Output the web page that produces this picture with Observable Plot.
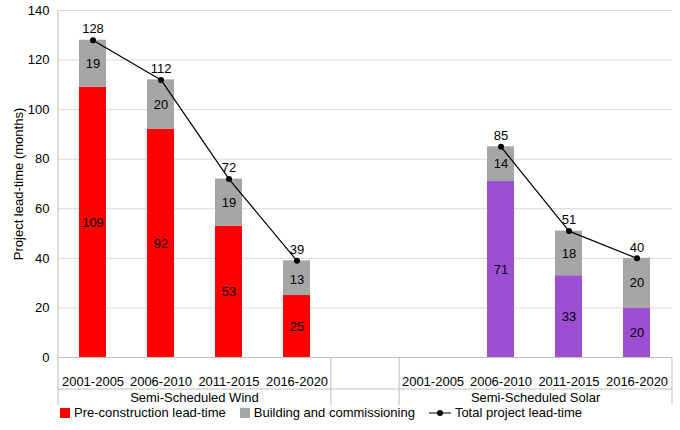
<!DOCTYPE html>
<html><head>
<script src="https://cdn.jsdelivr.net/npm/d3@7"></script>
<script src="https://cdn.jsdelivr.net/npm/@observablehq/plot@0.6"></script>
<style>
body{margin:0;background:#fff;font-family:"Liberation Sans",Arial,sans-serif;}
.leg{display:flex;gap:14px;font-size:13px;margin-left:60px;margin-top:0px;align-items:center}
.leg span{display:inline-flex;align-items:center;gap:4px}
</style>
</head><body>
<div id="c"></div>
<div class="leg">
<span><i style="display:inline-block;width:10px;height:10px;background:#ff0000"></i>Pre-construction lead-time</span>
<span><i style="display:inline-block;width:10px;height:10px;background:#a6a6a6"></i>Building and commissioning</span>
<span><svg width="22" height="10"><line x1="0" x2="22" y1="5" y2="5" stroke="black"/><circle cx="11" cy="5" r="3"/></svg>Total project lead-time</span>
</div>
<script>
const periods = ["2001-2005","2006-2010","2011-2015","2016-2020"];
const groups = ["Semi-Scheduled Wind","Semi-Scheduled Solar"];
const windPre = [109,92,53,25];
const windBuild = [19,20,19,13];
const windTotal = [128,112,72,39];
const solarPre = [null,71,33,20];
const solarBuild = [null,14,18,20];
const solarTotal = [null,85,51,40];
const colors = {"Semi-Scheduled Wind":"#ff0000","Semi-Scheduled Solar":"#9c4fd2"};

const keys = [...periods.map(p=>"W"+p),"gap",...periods.map(p=>"S"+p)];
const rows = [];
periods.forEach((p,i)=>rows.push({key:"W"+p,period:p,group:groups[0],pre:windPre[i],build:windBuild[i],total:windTotal[i]}));
periods.forEach((p,i)=>rows.push({key:"S"+p,period:p,group:groups[1],pre:solarPre[i],build:solarBuild[i],total:solarTotal[i]}));
const data = rows.filter(d=>d.total!=null);

const plot = Plot.plot({
  width:680,height:405,marginLeft:58,marginRight:8,marginTop:10,marginBottom:48,
  style:{fontFamily:"Liberation Sans, Arial, sans-serif",fontSize:"13px",color:"#000"},
  x:{domain:keys,paddingInner:0.6,paddingOuter:0.3,axis:null},
  y:{domain:[0,140],ticks:d3.range(0,141,20),label:"Project lead-time (months)",labelAnchor:"center",labelArrow:"none",labelOffset:45,tickSize:0},
  marks:[
    Plot.gridY({ticks:d3.range(20,141,20),stroke:"#d9d9d9",strokeOpacity:1}),
    Plot.barY(data,{x:"key",y1:0,y2:"pre",fill:d=>colors[d.group]}),
    Plot.barY(data,{x:"key",y1:"pre",y2:"total",fill:"#a6a6a6"}),
    Plot.text(data,{x:"key",y:d=>d.pre/2,text:"pre",fill:"black"}),
    Plot.text(data,{x:"key",y:d=>d.pre+d.build/2,text:"build",fill:"black"}),
    Plot.line(data,{x:"key",y:"total",z:"group",stroke:"black",strokeWidth:1.2}),
    Plot.dot(data,{x:"key",y:"total",fill:"black",r:3}),
    Plot.text(data,{x:"key",y:"total",text:"total",dy:-11,fill:"black"}),
    Plot.text(rows,{x:"key",y:0,text:"period",dy:24,fill:"black"}),
    Plot.ruleY([0],{stroke:"#bfbfbf"})
  ]
});
document.getElementById("c").appendChild(plot);
const svg = d3.select(plot);
const y = plot.scale("y");
const y0 = y.apply(0);
const L = 58, bw = (672-58)/9;
const vlines = [[L,y0,405],[L+4*bw,y0,405],[L+5*bw,y0,405],[672,y0,405],[L,10,y0]];
vlines.forEach(([xx,a,b])=>svg.append("line").attr("x1",xx).attr("x2",xx).attr("y1",a).attr("y2",b).attr("stroke","#bfbfbf"));
svg.append("line").attr("x1",L).attr("x2",672).attr("y1",389).attr("y2",389).attr("stroke","#bfbfbf");
[[L+2*bw,groups[0]],[L+7*bw,groups[1]]].forEach(([xx,t])=>svg.append("text").attr("x",xx).attr("y",402).attr("text-anchor","middle").attr("font-size",13).text(t));
</script>
</body></html>
